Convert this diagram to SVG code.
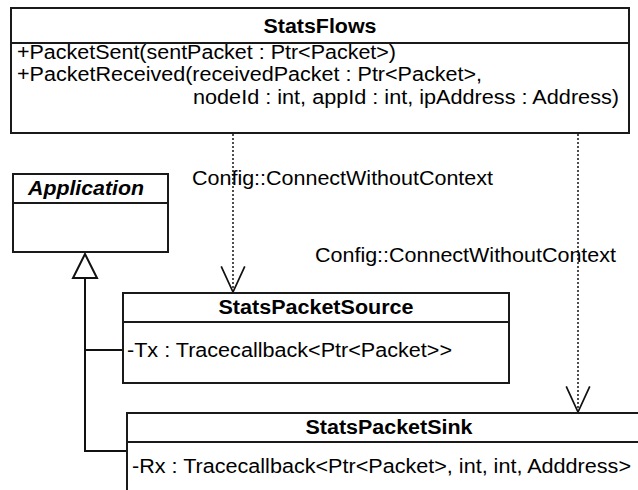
<svg xmlns="http://www.w3.org/2000/svg" width="638" height="490" viewBox="0 0 638 490">
  <style>
    .box { fill: #ffffff; stroke: #1a1a1a; stroke-width: 2; }
    .sep { stroke: #1a1a1a; stroke-width: 2; }
    .t { font-family: "Liberation Sans", Arial, sans-serif; font-size: 20px; fill: #000; }
    .title { font-weight: bold; text-anchor: middle; }
    .dep { stroke: #222; stroke-width: 1.6; stroke-dasharray: 2 2; fill: none; }
    .gen { stroke: #111; stroke-width: 2; fill: none; }
  </style>
  <defs>
    <marker id="openArrow" markerUnits="userSpaceOnUse" markerWidth="30" markerHeight="30" viewBox="-26 -13 28 26" refX="0" refY="0" orient="auto">
      <path d="M -24 -11 L 0 0 L -24 11" fill="none" stroke="#111" stroke-width="1.6"/>
    </marker>
  </defs>
  <rect width="638" height="490" fill="#ffffff"/>

  <!-- connectors -->
  <g id="connectors">
    <line class="dep" x1="233" y1="134" x2="233" y2="292" marker-end="url(#openArrow)"/>
    <line class="dep" x1="578" y1="134" x2="578" y2="412" marker-end="url(#openArrow)"/>
    <path class="gen" d="M 85 278 L 85 451 L 127 451 M 85 350 L 123 350"/>
    <polygon points="85,254 73,278 97,278" fill="#fff" stroke="#111" stroke-width="2"/>
    <text class="t" x="192" y="185" textLength="301" lengthAdjust="spacingAndGlyphs">Config::ConnectWithoutContext</text>
    <text class="t" x="315" y="262" textLength="301" lengthAdjust="spacingAndGlyphs">Config::ConnectWithoutContext</text>
  </g>

  <!-- StatsFlows -->
  <g id="StatsFlows">
    <rect class="box" x="11" y="8" width="618" height="125"/>
    <line class="sep" x1="11" y1="43" x2="629" y2="43"/>
    <text class="t title" x="320" y="33" textLength="113" lengthAdjust="spacingAndGlyphs">StatsFlows</text>
    <text class="t" x="17" y="59" textLength="379" lengthAdjust="spacingAndGlyphs">+PacketSent(sentPacket : Ptr&lt;Packet&gt;)</text>
    <text class="t" x="17" y="81" textLength="465" lengthAdjust="spacingAndGlyphs">+PacketReceived(receivedPacket : Ptr&lt;Packet&gt;,</text>
    <text class="t" x="193" y="104" textLength="426" lengthAdjust="spacingAndGlyphs">nodeId : int, appId : int, ipAddress : Address)</text>
  </g>

  <!-- Application -->
  <g id="Application">
    <rect class="box" x="13" y="174" width="155" height="78"/>
    <line class="sep" x1="13" y1="203" x2="168" y2="203"/>
    <text class="t" x="28" y="195" font-weight="bold" font-style="italic" textLength="116" lengthAdjust="spacingAndGlyphs">Application</text>
  </g>

  <!-- StatsPacketSource -->
  <g id="StatsPacketSource">
    <rect class="box" x="123" y="293" width="386" height="90"/>
    <line class="sep" x1="123" y1="322" x2="509" y2="322"/>
    <text class="t title" x="316" y="314" textLength="195" lengthAdjust="spacingAndGlyphs">StatsPacketSource</text>
    <text class="t" x="127" y="357" textLength="325" lengthAdjust="spacingAndGlyphs">-Tx : Tracecallback&lt;Ptr&lt;Packet&gt;&gt;</text>
  </g>

  <!-- StatsPacketSink -->
  <g id="StatsPacketSink">
    <rect class="box" x="127" y="413" width="540" height="100"/>
    <line class="sep" x1="127" y1="442" x2="667" y2="442"/>
    <text class="t title" x="389" y="434" textLength="167" lengthAdjust="spacingAndGlyphs">StatsPacketSink</text>
    <text class="t" x="132" y="473" textLength="499" lengthAdjust="spacingAndGlyphs">-Rx : Tracecallback&lt;Ptr&lt;Packet&gt;, int, int, Adddress&gt;</text>
  </g>
</svg>
